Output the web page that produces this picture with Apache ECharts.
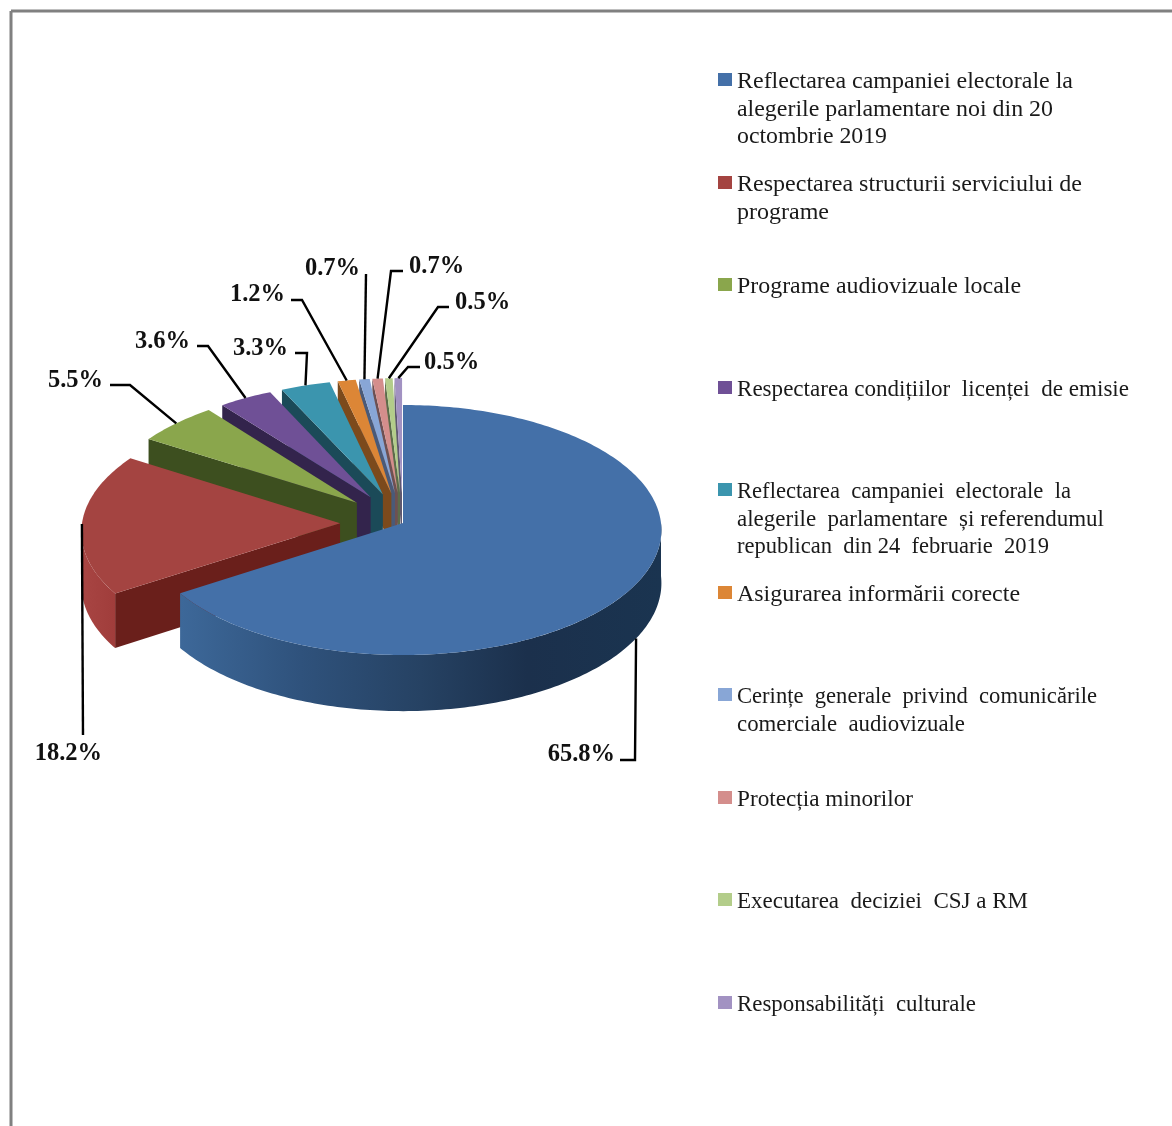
<!DOCTYPE html>
<html>
<head>
<meta charset="utf-8">
<title>Pie chart</title>
<script src="https://cdn.jsdelivr.net/npm/echarts@6/dist/echarts.min.js"></script>
<style>
  html, body { margin: 0; padding: 0; background: #fff; }
  /* the source picture is a soft upscaled scan */
  #chart { width: 1172px; height: 1126px; filter: blur(0.5px); }
</style>
</head>
<body>
<div id="chart"></div>
<script>
// categories, one entry per legend row, lines as broken in the legend
var categories = [
  ["Reflectarea campaniei electorale la", "alegerile parlamentare noi din 20", "octombrie 2019"],
  ["Respectarea structurii serviciului de", "programe"],
  ["Programe audiovizuale locale"],
  ["Respectarea condițiilor  licenței  de emisie"],
  ["Reflectarea  campaniei  electorale  la", "alegerile  parlamentare  și referendumul", "republican  din 24  februarie  2019"],
  ["Asigurarea informării corecte"],
  ["Cerințe  generale  privind  comunicările", "comerciale  audiovizuale"],
  ["Protecția minorilor"],
  ["Executarea  deciziei  CSJ a RM"],
  ["Responsabilități  culturale"]
];
// share of each slice, percent
var values = [65.8, 18.2, 5.5, 3.6, 3.3, 1.2, 0.7, 0.7, 0.5, 0.5];
// slices pulled out of the pie (0 = stays in place)
var exploded = [0, 1, 1, 1, 1, 1, 1, 1, 1, 1];

var topColors = ["#4470a8", "#a44441", "#8aa64c", "#6f5096", "#3b95ae", "#dc8636", "#88a6d6", "#d48e8c", "#b3cd8a", "#a292c2"];
var sideColors = ["#264263", "#6a1f1b", "#3d4f1f", "#33244c", "#1b4a58", "#7c4a1c", "#4a5a78", "#6e5052", "#5c6c4a", "#5e5870"];
// rim shading, left to right
var rimStops = {
  0: [[0, "#3d6899"], [0.25, "#2f527c"], [0.5, "#264263"], [0.72, "#1b304c"], [1, "#1a3450"]],
  1: [[0, "#a84543"], [1, "#a03d3b"]]
};

// data label anchor and the fixed part of its leader, pixels
var labelPos = [[615, 755], [102, 754], [103, 381], [190, 342], [288, 349], [285, 295], [360, 269], [409, 267], [455, 303], [424, 363]];
var labelAlign = ["right", "right", "right", "right", "right", "right", "right", "left", "left", "left"];
var leaderPath = [
  [[620, 760], [635, 760]],
  [[83, 735]],
  [[110, 385], [130, 385]],
  [[197, 346], [208, 346]],
  [[295, 353], [307, 353]],
  [[291, 300], [302, 300]],
  [[366, 274]],
  [[403, 271], [391, 271]],
  [[449, 307], [438, 307]],
  [[420, 367], [408, 367]]
];
// right end of each legend line, pixels
var legendRight = [[1073, 1053, 887], [1082, 829], [1021], [1129], [1071, 1104, 1049], [1020], [1097, 965], [913], [1028], [976]];

// pie projection
var cx = 403, cy = 523, rx = 258, ry = 124.6, persp = 0.056, depth = 53, explode = 0.244;
var labelFont = "bold 24.5px 'Liberation Serif'";
var legendFont = "24px 'Liberation Serif'";
var legendLeft = 737;

var total = values.reduce(function (a, b) { return a + b; }, 0);
var angles = [];
values.reduce(function (sum, v, i) {
  angles[i] = [sum / total * 360, (sum + v) / total * 360];
  return sum + v;
}, 0);

var measure = document.createElement("canvas").getContext("2d");
measure.font = legendFont;

function rad(deg) { return deg * Math.PI / 180; }

// clockwise from 12 o'clock, r = 0..1 of the radius, on the pie top
function project(i, deg, r, drop) {
  var mid = (angles[i][0] + angles[i][1]) / 2;
  var e = exploded[i] ? explode : 0;
  var X = r * Math.sin(rad(deg)) + e * Math.sin(rad(mid));
  var Y = r * Math.cos(rad(deg)) + e * Math.cos(rad(mid));
  var p = 1 / (1 + persp * Y);
  return [cx + rx * X * p, cy - ry * Y * p + (drop ? depth * p : 0)];
}

function arcPoints(i, from, to, drop) {
  var pts = [];
  var n = Math.max(2, Math.ceil(Math.abs(to - from)));
  for (var k = 0; k <= n; k++) {
    pts.push(project(i, from + (to - from) * k / n, 1, drop));
  }
  return pts;
}

function renderSlice(params, api) {
  var i = api.value(0);
  var a0 = angles[i][0], a1 = angles[i][1];
  var children = [];

  // cut face under the start edge, only when it looks at the viewer
  if (Math.sin(rad(a0)) < -0.01) {
    children.push({
      type: "polygon",
      shape: { points: [project(i, a0, 0, false), project(i, a0, 1, false), project(i, a0, 1, true), project(i, a0, 0, true)] },
      style: { fill: sideColors[i] }
    });
  }
  // rim, front half only
  var from = Math.max(a0, 90), to = Math.min(a1, 270);
  if (to > from) {
    var stops = (rimStops[i] || [[0, sideColors[i]], [1, sideColors[i]]]).map(function (s) {
      return { offset: s[0], color: s[1] };
    });
    children.push({
      type: "polygon",
      shape: { points: arcPoints(i, from, to, false).concat(arcPoints(i, to, from, true)) },
      style: { fill: new echarts.graphic.LinearGradient(0, 0, 1, 0, stops) }
    });
  }
  // top
  children.push({
    type: "polygon",
    shape: { points: [project(i, a0, 0, false)].concat(arcPoints(i, a0, a1, false)) },
    style: { fill: topColors[i] }
  });
  return { type: "group", children: children };
}

function renderLabel(params, api) {
  var i = api.value(0);
  var mid = (angles[i][0] + angles[i][1]) / 2;
  // the blue leader starts under the rim, the others at the top edge
  var anchor = project(i, mid, 1, mid > 90 && mid < 180);
  return {
    type: "group",
    children: [
      {
        type: "polyline",
        shape: { points: leaderPath[i].concat([anchor]) },
        style: { stroke: "#000", lineWidth: 2.4, fill: null }
      },
      {
        type: "text",
        style: {
          text: api.value(1).toFixed(1) + "%",
          x: labelPos[i][0],
          y: labelPos[i][1],
          font: labelFont,
          fill: "#111",
          textAlign: labelAlign[i],
          textVerticalAlign: "middle"
        }
      }
    ]
  };
}

function renderLegend(params, api) {
  var i = api.value(0);
  var rowY = Math.round(80 + i * 102.5);
  var children = [{
    type: "rect",
    shape: { x: 718, y: rowY - 7, width: 14, height: 13 },
    style: { fill: topColors[i] }
  }];
  categories[i].forEach(function (line, k) {
    // justified text in the source, squeeze each line to its width
    var width = measure.measureText(line).width;
    children.push({
      type: "text",
      x: legendLeft,
      y: rowY + 2 + k * 27.5,
      scaleX: (legendRight[i][k] - legendLeft) / width,
      style: {
        text: line,
        x: 0,
        y: 0,
        font: legendFont,
        fill: "#1a1a1a",
        textAlign: "left",
        textVerticalAlign: "middle"
      }
    });
  });
  return { type: "group", children: children };
}

var order = values.map(function (v, i) { return values.length - 1 - i; });

var chart = echarts.init(document.getElementById("chart"));
chart.setOption({
  backgroundColor: "#fff",
  animation: false,
  graphic: [
    { type: "line", shape: { x1: 11, y1: 11, x2: 1172, y2: 11 }, style: { stroke: "#808080", lineWidth: 3 } },
    { type: "line", shape: { x1: 11, y1: 11, x2: 11, y2: 1126 }, style: { stroke: "#808080", lineWidth: 3 } }
  ],
  series: [
    // back slices first, blue last
    {
      type: "custom",
      name: "slices",
      coordinateSystem: "none",
      renderItem: renderSlice,
      silent: true,
      data: order.map(function (i) { return [i, values[i]]; })
    },
    {
      type: "custom",
      name: "labels",
      coordinateSystem: "none",
      renderItem: renderLabel,
      silent: true,
      z: 3,
      data: values.map(function (v, i) { return [i, v]; })
    },
    {
      type: "custom",
      name: "legend",
      coordinateSystem: "none",
      renderItem: renderLegend,
      silent: true,
      z: 3,
      data: values.map(function (v, i) { return [i, v]; })
    }
  ]
});
</script>
</body>
</html>
